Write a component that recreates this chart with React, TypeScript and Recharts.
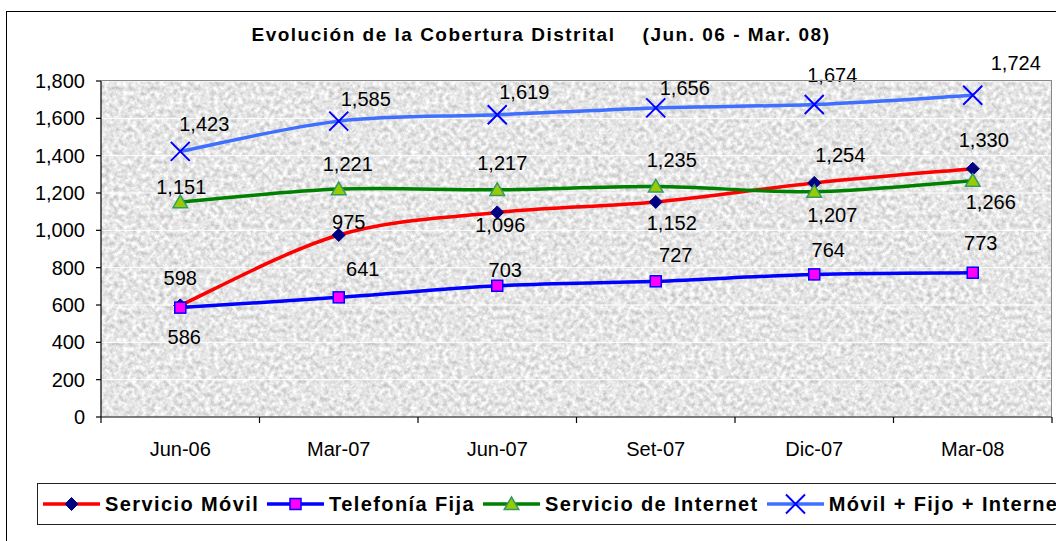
import React from 'react';
import { LineChart, Line, XAxis, YAxis, CartesianGrid } from 'recharts';

const categories = ['Jun-06', 'Mar-07', 'Jun-07', 'Set-07', 'Dic-07', 'Mar-08'];
const servicioMovil = [598, 975, 1096, 1152, 1254, 1330];
const telefoniaFija = [586, 641, 703, 727, 764, 773];
const servicioInternet = [1151, 1221, 1217, 1235, 1207, 1266];
const movilFijoInternet = [1423, 1585, 1619, 1656, 1674, 1724];
const yTicks = [0, 200, 400, 600, 800, 1000, 1200, 1400, 1600, 1800];

// label placement (dx, dy of label centre relative to the point)
const movilLabelOffsets = [[0, -27], [10, -13], [3, 13], [16, 21], [26, -28], [11, -29]];
const fijaLabelOffsets = [[4, 29], [24, -28], [8, -16], [20, -26], [14, -24], [8, -30]];
const internetLabelOffsets = [[1, -15], [9, -25], [5, -27], [16, -26], [18, 23], [18, 21]];
const totalLabelOffsets = [[24, -27], [27, -22], [27, -23], [29, -20], [18, -30], [43, -32]];

const data = categories.map((c, i) => ({
  cat: c,
  movil: servicioMovil[i],
  fija: telefoniaFija[i],
  internet: servicioInternet[i],
  total: movilFijoInternet[i],
}));

const FONT = '"Liberation Sans", Arial, Helvetica, sans-serif';
const W = 1056;
const H = 541;
const MARGIN = { top: 81, right: 4, left: 0, bottom: 94 };
const Y_AXIS_W = 101;
const X_AXIS_H = 30;
const PLOT_W = W - MARGIN.left - MARGIN.right - Y_AXIS_W;

// Excel-like smoothed curve (Catmull-Rom style bezier)
const excelSmooth = (context: any) => {
  let pts: number[][] = [];
  return {
    areaStart() {},
    areaEnd() {},
    lineStart() {
      pts = [];
    },
    point(x: number, y: number) {
      pts.push([+x, +y]);
    },
    lineEnd() {
      const n = pts.length;
      if (!n) return;
      context.moveTo(pts[0][0], pts[0][1]);
      for (let i = 0; i < n - 1; i++) {
        const p0 = pts[i - 1] || pts[i];
        const p1 = pts[i];
        const p2 = pts[i + 1];
        const p3 = pts[i + 2] || pts[i + 1];
        const c1x = p1[0] + (p2[0] - p0[0]) / 6;
        const c1y = p1[1] + (p2[1] - p0[1]) / 6;
        const c2x = p2[0] - (p3[0] - p1[0]) / 6;
        const c2y = p2[1] - (p3[1] - p1[1]) / 6;
        context.bezierCurveTo(c1x, c1y, c2x, c2y, p2[0], p2[1]);
      }
    },
  };
};

const Diamond = (size: number, fill: string) => (x: number, y: number) => (
  <path d={`M${x},${y - size}L${x + size},${y}L${x},${y + size}L${x - size},${y}Z`} fill={fill} stroke={fill} strokeWidth={1} />
);
const Square = (size: number, fill: string, stroke: string) => (x: number, y: number) => (
  <rect x={x - size} y={y - size} width={size * 2} height={size * 2} fill={fill} stroke={stroke} strokeWidth={1.5} />
);
const Triangle = (size: number, fill: string, stroke: string) => (x: number, y: number) => (
  <path d={`M${x},${y - size}L${x + size * 1.05},${y + size * 0.8}L${x - size * 1.05},${y + size * 0.8}Z`} fill={fill} stroke={stroke} strokeWidth={1.5} />
);
const Cross = (size: number, stroke: string) => (x: number, y: number) => (
  <path d={`M${x - size},${y - size}L${x + size},${y + size}M${x - size},${y + size}L${x + size},${y - size}`} stroke={stroke} strokeWidth={2} fill="none" />
);

const series = [
  { key: 'movil', name: 'Servicio Móvil', color: '#ff0000', marker: Diamond(6.5, '#000080'), offsets: movilLabelOffsets },
  { key: 'fija', name: 'Telefonía Fija', color: '#0000ff', marker: Square(5.5, '#ff00ff', '#0000ff'), offsets: fijaLabelOffsets },
  { key: 'internet', name: 'Servicio de Internet', color: '#008000', marker: Triangle(7, '#99cc00', '#339966'), offsets: internetLabelOffsets },
  { key: 'total', name: 'Móvil + Fijo + Internet', color: '#3f6fff', marker: Cross(9.5, '#0000ff'), offsets: totalLabelOffsets },
];

const fmt = (v: number) => v.toLocaleString('en-US');

const XTick = (props: any) => {
  const { x, y, payload, index } = props;
  const band = PLOT_W / categories.length;
  return (
    <g>
      <line x1={x - band / 2} x2={x - band / 2} y1={y} y2={y + 6} stroke="#000" strokeWidth={1.2} />
      {index === categories.length - 1 && (
        <line x1={x + band / 2} x2={x + band / 2} y1={y} y2={y + 6} stroke="#000" strokeWidth={1.2} />
      )}
      <text x={x} y={y + 39} textAnchor="middle" fontSize={20} fontFamily={FONT} fill="#000">
        {payload.value}
      </text>
    </g>
  );
};

const makeLabel = (offsets: number[][]) => (props: any) => {
  const { x, y, value, index } = props;
  const o = offsets[index] || [0, -20];
  return (
    <text x={x + o[0]} y={y + o[1] + 7} textAnchor="middle" fontSize={20} fontFamily={FONT} fill="#000">
      {fmt(value)}
    </text>
  );
};

const makeDot = (marker: (x: number, y: number) => React.ReactElement) => (props: any) => {
  const { cx, cy, index } = props;
  return <g key={`d-${index}`}>{marker(cx, cy)}</g>;
};

const LegendSwatch = ({ color, marker }: any) => (
  <svg width={57} height={22} style={{ display: 'block', flex: 'none' }}>
    <line x1={0} x2={57} y1={11} y2={11} stroke={color} strokeWidth={3.5} />
    {marker(28.5, 11)}
  </svg>
);

export default function App() {
  return (
    <div style={{ position: 'absolute', left: 0, top: 0, width: W, height: H, overflow: 'hidden', background: '#fff', fontFamily: FONT }}>
      <svg width={0} height={0} style={{ position: 'absolute' }}>
        <defs>
          <filter id="grain" x="0" y="0" width="100%" height="100%" colorInterpolationFilters="sRGB">
            <feTurbulence type="fractalNoise" baseFrequency="0.22" numOctaves={4} seed={7} stitchTiles="stitch" result="n" />
            <feColorMatrix
              in="n"
              type="matrix"
              values="0.4 0 0 0 0.70  0.4 0 0 0 0.70  0.4 0 0 0 0.70  0 0 0 0 1"
            />
          </filter>
          <pattern id="tex" patternUnits="userSpaceOnUse" width={256} height={256}>
            <rect x={0} y={0} width={256} height={256} fill="#e6e6e6" filter="url(#grain)" />
          </pattern>
        </defs>
      </svg>

      {/* outer chart frame */}
      <div style={{ position: 'absolute', left: 6, top: 11, width: 1200, height: 700, border: '1.5px solid #000' }} />

      {/* title */}
      <div
        style={{
          position: 'absolute',
          left: 0,
          width: 1082,
          top: 23,
          textAlign: 'center',
          fontSize: 19,
          fontWeight: 'bold',
          letterSpacing: 1.5,
          whiteSpace: 'pre',
          color: '#000',
          lineHeight: '24px',
        }}
      >
        {'Evolución de la Cobertura Distrital    (Jun. 06 - Mar. 08)'}
      </div>

      <div style={{ position: 'absolute', left: 0, top: 0 }}>
        <LineChart width={W} height={H} data={data} margin={MARGIN}>
          <CartesianGrid horizontal vertical={false} stroke="#ffffff" strokeWidth={1} fill="url(#tex)" fillOpacity={1} />
          <XAxis
            dataKey="cat"
            scale="band"
            height={X_AXIS_H}
            axisLine={{ stroke: '#000', strokeWidth: 1.2 }}
            tickLine={false}
            tickSize={0}
            tickMargin={0}
            tick={<XTick />}
            interval={0}
          />
          <YAxis
            width={Y_AXIS_W}
            domain={[0, 1800]}
            ticks={yTicks}
            interval={0}
            tickFormatter={fmt}
            axisLine={{ stroke: '#000', strokeWidth: 1.2 }}
            tickLine={{ stroke: '#000', strokeWidth: 1.2 }}
            tickSize={5}
            tickMargin={11}
            tick={{ fontSize: 20, fontFamily: FONT, fill: '#000' }}
          />
          {series.map((s) => (
            <Line
              key={s.key}
              dataKey={s.key}
              name={s.name}
              type={excelSmooth as any}
              stroke={s.color}
              strokeWidth={3.5}
              dot={makeDot(s.marker)}
              activeDot={false}
              label={makeLabel(s.offsets)}
              isAnimationActive={false}
            />
          ))}
        </LineChart>
      </div>

      {/* plot area border top/right */}
      <div
        style={{
          position: 'absolute',
          left: MARGIN.left + Y_AXIS_W,
          top: MARGIN.top - 1,
          width: PLOT_W,
          height: H - MARGIN.top - MARGIN.bottom - X_AXIS_H,
          borderTop: '1.5px solid #888',
          borderRight: '1.5px solid #888',
          boxSizing: 'border-box',
          pointerEvents: 'none',
        }}
      />

      {/* legend */}
      <div
        style={{
          position: 'absolute',
          left: 37,
          top: 483,
          width: 1100,
          height: 42,
          border: '1.5px solid #222',
          boxSizing: 'border-box',
          background: '#fff',
          display: 'flex',
          alignItems: 'center',
          paddingLeft: 5,
        }}
      >
        {series.map((s) => (
          <div key={s.key} style={{ display: 'flex', alignItems: 'center', marginRight: 8 }}>
            <LegendSwatch color={s.color} marker={s.marker} />
            <span style={{ fontSize: 20, fontWeight: 'bold', letterSpacing: 1.4, marginLeft: 5, whiteSpace: 'nowrap', color: '#000' }}>
              {s.name}
            </span>
          </div>
        ))}
      </div>
    </div>
  );
}
